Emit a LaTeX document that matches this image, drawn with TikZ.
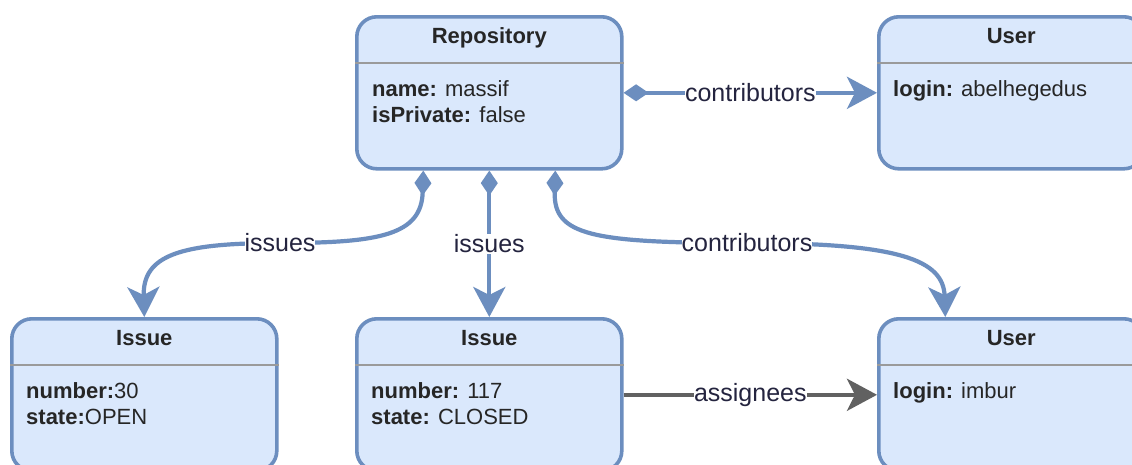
\documentclass[tikz,border=0pt]{standalone}
\usepackage{fontspec}
\setmainfont{Liberation Sans}
\usetikzlibrary{arrows.meta}

\definecolor{boxfill}{HTML}{DAE8FC}
\definecolor{boxline}{HTML}{6C8EBF}
\definecolor{sepline}{HTML}{9A9A9A}
\definecolor{textdark}{HTML}{262626}
\definecolor{labeltext}{HTML}{24243F}
\definecolor{greyedge}{HTML}{616161}

\tikzset{
  objbox/.style={draw=boxline, fill=boxfill, line width=3.6pt, rounded corners=20pt,
    minimum width=265pt, minimum height=152pt, anchor=north west, inner sep=0pt},
  objtitle/.style={font=\bfseries\fontsize{22}{26}\selectfont, text=textdark, anchor=base, inner sep=0pt},
  objattr/.style={font=\fontsize{22}{26}\selectfont, text=textdark, anchor=base west, inner sep=0pt},
  sepln/.style={draw=sepline, line width=1.8pt},
  owns/.style={draw=boxline, line width=4.2pt,
    {Diamond[length=25pt,width=17pt]}-{Stealth[length=30pt,width=32pt,inset=8pt]}},
  refers/.style={draw=greyedge, line width=4.2pt, -{Stealth[length=30pt,width=32pt,inset=8pt]}},
  elabel/.style={fill=white, text=labeltext, font=\fontsize{25}{30}\selectfont,
    inner xsep=0pt, inner ysep=1pt},
}

\begin{document}
\begin{tikzpicture}[x=1pt,y=-1pt]
  \useasboundingbox (0,0) rectangle (1132,464);
  \fill[white] (0,0) rectangle (1132,464);
  \clip (0,0) rectangle (1132,464);

  % object boxes
  \node[objbox] (repo)  at (355,15)  {};
  \node[objbox] (user1) at (877,15)  {};
  \node[objbox] (iss1)  at (10,317)  {};
  \node[objbox] (iss2)  at (355,317) {};
  \node[objbox] (user2) at (877,317) {};

  % header separators
  \foreach \b in {repo,user1,iss1,iss2,user2}
    \draw[sepln] ([yshift=-48pt]\b.north west) -- ([yshift=-48pt]\b.north east);

  % titles
  \node[objtitle] (repoT)  at ([yshift=-28pt]repo.north)  {Repository};
  \node[objtitle] (user1T) at ([yshift=-28pt]user1.north) {User};
  \node[objtitle] (iss1T)  at ([yshift=-28pt]iss1.north)  {Issue};
  \node[objtitle] (iss2T)  at ([yshift=-28pt]iss2.north)  {Issue};
  \node[objtitle] (user2T) at ([yshift=-28pt]user2.north) {User};

  % attributes
  \node[objattr] (repoA1)  at ([xshift=17pt,yshift=-81pt]repo.north west)  {\textbf{name:} massif};
  \node[objattr] (repoA2)  at ([xshift=17pt,yshift=-107pt]repo.north west) {\textbf{isPrivate:} false};
  \node[objattr] (user1A1) at ([xshift=16pt,yshift=-81pt]user1.north west) {\textbf{login:} abelhegedus};
  \node[objattr] (iss1A1)  at ([xshift=16pt,yshift=-81pt]iss1.north west)  {\textbf{number:}30};
  \node[objattr] (iss1A2)  at ([xshift=16pt,yshift=-107pt]iss1.north west) {\textbf{state:}OPEN};
  \node[objattr] (iss2A1)  at ([xshift=16pt,yshift=-81pt]iss2.north west)  {\textbf{number:} 117};
  \node[objattr] (iss2A2)  at ([xshift=16pt,yshift=-107pt]iss2.north west) {\textbf{state:} CLOSED};
  \node[objattr] (user2A1) at ([xshift=16pt,yshift=-81pt]user2.north west) {\textbf{login:} imbur};

  % references
  \draw[owns] (repo.east) -- node[elabel] (lc1) {contributors} (user1.west);
  \draw[owns] (repo.south) -- node[elabel] (li2) {issues} (iss2.north);
  \draw[owns] ([xshift=-66pt]repo.south)
      .. controls (421.5,235) and (380,243) .. (280,243) node[elabel] (li1) {issues}
      .. controls (180,243) and (142.5,255) .. (iss1.north);
  \draw[owns] ([xshift=66pt]repo.south)
      .. controls (553.5,235) and (590,243) .. (747,243) node[elabel] (lc2) {contributors}
      .. controls (900,243) and (943.5,260) .. ([xshift=-66pt]user2.north);
  \draw[refers] (iss2.east) -- node[elabel] (las) {assignees} (user2.west);
\end{tikzpicture}
\end{document}
